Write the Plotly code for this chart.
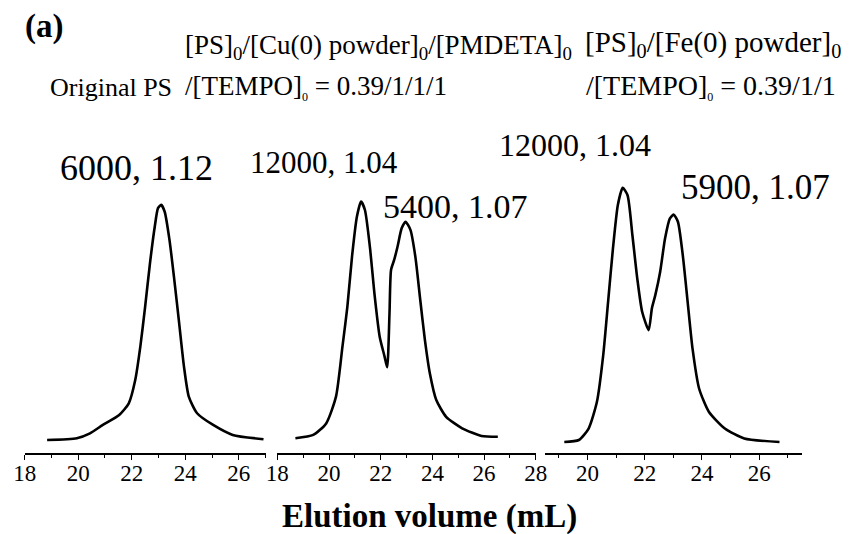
import plotly.graph_objects as go

W, H = 852, 534

# ---- data (elution volume in mL, normalized RI intensity) ----
ps_vol = [18.84, 19.95, 20.44, 20.92, 21.53, 21.89, 22.13, 22.32, 22.50, 22.68, 22.86, 22.98, 23.10,
          23.23, 23.41, 23.59, 23.77, 23.95, 24.13, 24.44, 25.04, 25.77, 26.92]
ps_int = [0.0, 0.007, 0.026, 0.059, 0.098, 0.144, 0.235, 0.366, 0.523, 0.693, 0.837, 0.909, 0.922,
          0.895, 0.784, 0.627, 0.458, 0.288, 0.170, 0.105, 0.059, 0.020, 0.003]

cu_vol = [18.70, 19.39, 19.89, 20.27, 20.52, 20.71, 20.89, 21.08, 21.24, 21.39, 21.58, 21.77, 21.96,
          22.15, 22.25, 22.34, 22.40, 22.52, 22.65, 22.81, 22.96, 23.15, 23.34, 23.53, 23.71, 23.90,
          24.15, 24.53, 25.15, 25.90, 26.53]
cu_int = [0.007, 0.02, 0.065, 0.170, 0.366, 0.523, 0.719, 0.876, 0.935, 0.902, 0.758, 0.562, 0.405,
          0.327, 0.285, 0.497, 0.667, 0.706, 0.758, 0.830, 0.856, 0.824, 0.719, 0.549, 0.392, 0.262,
          0.157, 0.091, 0.046, 0.016, 0.013]

fe_vol = [19.19, 19.70, 20.04, 20.33, 20.55, 20.72, 20.89, 21.06, 21.23, 21.40, 21.57, 21.74, 21.91,
          22.14, 22.25, 22.37, 22.54, 22.71, 22.88, 23.01, 23.16, 23.33, 23.50, 23.67, 23.90, 24.24,
          24.80, 25.48, 26.71]
fe_int = [-0.008, 0.0, 0.045, 0.150, 0.333, 0.542, 0.751, 0.921, 0.989, 0.960, 0.803, 0.633, 0.503,
          0.431, 0.516, 0.568, 0.660, 0.790, 0.869, 0.884, 0.856, 0.725, 0.542, 0.359, 0.202, 0.111,
          0.045, 0.006, -0.008]

x_ranges = [[18, 27], [18, 28], [18.5, 27.5]]
x_pix = [[13, 261], [273, 539], [548, 813]]
tick_vals = [[18, 20, 22, 24, 26], [18, 20, 22, 24, 26, 28], [20, 22, 24, 26]]

SERIF = "Liberation Serif, Times New Roman, serif"

fig = go.Figure()
series = [(ps_vol, ps_int), (cu_vol, cu_int), (fe_vol, fe_int)]
for i, (xv, yv) in enumerate(series):
    sfx = "" if i == 0 else str(i + 1)
    fig.add_trace(go.Scatter(x=xv, y=yv, mode="lines",
                             line=dict(color="black", width=2.6, shape="spline", smoothing=0.6),
                             xaxis="x" + sfx, yaxis="y" + sfx, showlegend=False, hoverinfo="skip"))

y_bottom_px, y_top_px = 453, 180
ydom = [(H - y_bottom_px) / H, (H - y_top_px) / H]
yrange = [-0.051, 1.0196]

layout = dict(width=W, height=H, margin=dict(l=0, r=0, t=0, b=0),
              paper_bgcolor="white", plot_bgcolor="white", showlegend=False)
for i in range(3):
    sfx = "" if i == 0 else str(i + 1)
    layout["xaxis" + sfx] = dict(
        domain=[x_pix[i][0] / W, x_pix[i][1] / W], range=x_ranges[i],
        anchor="y" + sfx, showline=True, linecolor="black", linewidth=1.6,
        showgrid=False, zeroline=False, ticks="outside", ticklen=5, tickwidth=1.4,
        tickcolor="black", tickmode="array", tickvals=tick_vals[i],
        ticktext=[str(v) for v in tick_vals[i]], ticklabelstandoff=-6,
        tickfont=dict(family=SERIF, size=23, color="black"),
        minor=dict(dtick=1, tick0=18, ticks="outside", ticklen=3, tickwidth=1.2, tickcolor="black"),
    )
    layout["yaxis" + sfx] = dict(domain=ydom, range=yrange, visible=False, anchor="x" + sfx)

fig.update_layout(**layout)


def ann(text, xc, yc, size, bold=False):
    fig.add_annotation(text=("<b>%s</b>" % text) if bold else text,
                       x=xc / W, y=1 - yc / H, xref="paper", yref="paper",
                       xanchor="center", yanchor="middle", showarrow=False,
                       font=dict(family=SERIF, size=size, color="black"))


ann("(a)", 33, 26, 33, bold=True)
ann("[PS]<sub>0</sub>/[Cu(0) powder]<sub>0</sub>/[PMDETA]<sub>0</sub>", 377, 47, 27)
ann("[PS]<sub>0</sub>/[Fe(0) powder]<sub>0</sub>", 721, 44, 29)
ann("Original PS", 102, 88, 26)
ann("/[TEMPO]<sub><span style='font-size:12px'>0</span></sub> = 0.39/1/1/1", 313, 88, 27)
ann("/[TEMPO]<sub><span style='font-size:12px'>0</span></sub> = 0.39/1/1", 719, 87, 28)
ann("6000, 1.12", 128, 168, 36)
ann("12000, 1.04", 321, 163, 31)
ann("5400, 1.07", 456, 207, 34)
ann("12000, 1.04", 579, 145, 32)
ann("5900, 1.07", 765, 187, 35)

fig.add_annotation(text="<b>Elution volume (mL)</b>", x=430 / W, y=1 - 516 / H,
                   xref="paper", yref="paper", xanchor="center", yanchor="middle",
                   showarrow=False, font=dict(family=SERIF, size=33, color="black"))

fig.write_html("out.html")
